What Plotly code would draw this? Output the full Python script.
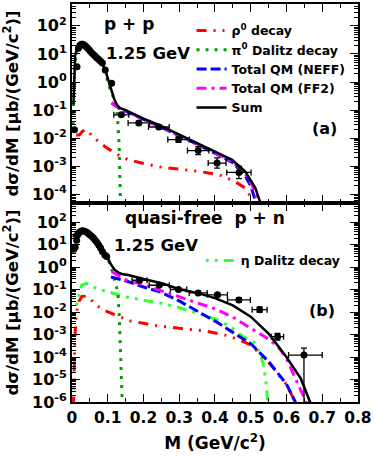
import plotly.graph_objects as go
from plotly.subplots import make_subplots

# ---------------- panel (a): p + p ----------------
pp_m = [0.007, 0.014, 0.018, 0.022, 0.026, 0.030, 0.034, 0.038, 0.042, 0.046, 0.050,
        0.055, 0.060, 0.065, 0.070, 0.075, 0.080, 0.085, 0.093, 0.111]
pp_val = [0.02, 3.5, 16, 20, 22, 22, 21, 19, 17, 15, 13,
          11, 9.5, 8.3, 7.2, 6.3, 5.5, 4.8, 2.7, 0.9]

pp_err_m = [0.138, 0.187, 0.243, 0.298, 0.353, 0.406, 0.467]
pp_err_val = [0.068, 0.035, 0.025, 0.0089, 0.0036, 0.0013, 0.0006]
pp_err_dm = [0.021, 0.03, 0.029, 0.03, 0.03, 0.025, 0.034]
pp_err_up = [0.0083, 0.0052, 0.0044, 0.0023, 0.0014, 0.00067, 0.0004]
pp_err_dn = [0.0074, 0.0045, 0.0037, 0.0018, 0.001, 0.00044, 0.00024]

pp_sum_m = [0.004, 0.006, 0.009, 0.014, 0.020, 0.027, 0.035, 0.045, 0.055, 0.065, 0.075, 0.085,
            0.095, 0.105, 0.111, 0.118, 0.125, 0.133, 0.15, 0.2, 0.243, 0.298, 0.353, 0.406,
            0.448, 0.485, 0.513, 0.527, 0.530]
pp_sum = [0.16, 1.6, 9.1, 15.8, 22.4, 25, 21.4, 15.8, 11.7, 8.5, 6.3, 4.5,
          2.2, 0.89, 0.46, 0.25, 0.16, 0.12, 0.1, 0.05, 0.0295, 0.0138, 0.0065, 0.0031,
          0.0017, 6.5e-4, 1.66e-4, 5e-5, 3.2e-5]

pp_qm_m = [0.111, 0.133, 0.2, 0.243, 0.298, 0.353, 0.406, 0.448, 0.485, 0.5, 0.51, 0.515]
pp_neff = [0.178, 0.112, 0.047, 0.027, 0.0126, 0.0058, 0.0027, 0.0014, 4.5e-4, 2e-4, 7.9e-5, 3.2e-5]
pp_ff2_m = [0.111, 0.133, 0.2, 0.243, 0.298, 0.353, 0.406, 0.448, 0.485, 0.505, 0.516, 0.522]
pp_ff2 = [0.186, 0.115, 0.048, 0.0275, 0.0129, 0.0059, 0.0028, 0.0015, 5.4e-4, 2e-4, 7.9e-5, 3.2e-5]

pp_rho_m = [0.012, 0.021, 0.03, 0.04, 0.063, 0.081, 0.105, 0.128, 0.156, 0.189, 0.244, 0.3,
            0.356, 0.411, 0.457, 0.485, 0.503, 0.512]
pp_rho = [0.0126, 0.0132, 0.0178, 0.02, 0.01, 0.0063, 0.0039, 0.0026, 0.00174, 0.00135, 9.5e-4, 7.9e-4,
          6.5e-4, 5e-4, 2.8e-4, 1.66e-4, 7.2e-5, 4e-5]

pp_pi0_m = [0.003, 0.004, 0.006, 0.009, 0.014, 0.02, 0.027, 0.035, 0.045, 0.055, 0.065, 0.075,
            0.085, 0.095, 0.102, 0.111, 0.118, 0.124, 0.128, 0.132, 0.134, 0.136]
pp_pi0 = [0.032, 0.126, 1, 6, 12.6, 20, 24, 20, 14.8, 10.7, 7.9, 5.8,
          4, 2, 0.79, 0.42, 0.24, 0.126, 0.04, 0.0054, 5e-4, 2.5e-5]

# ---------------- panel (b): quasi-free p + n ----------------
pn_m = [0.005, 0.009, 0.013, 0.016, 0.020, 0.025, 0.030, 0.035, 0.040, 0.045, 0.050,
        0.055, 0.060, 0.065, 0.070, 0.075, 0.080, 0.085, 0.092, 0.097]
pn_val = [6.3, 7.9, 15.8, 28, 35, 40, 42, 40, 37, 33, 28,
          24, 20, 15.8, 12.6, 9.5, 7.1, 5, 3.5, 3.0]

pn_err_m = [0.189, 0.244, 0.298, 0.353, 0.407, 0.467, 0.525, 0.575, 0.649]
pn_err_val = [0.263, 0.158, 0.102, 0.072, 0.059, 0.035, 0.0129, 8.1e-4, 1.23e-4]
pn_err_dm_hi = [0.021, 0.028, 0.023, 0.025, 0.028, 0.032, 0.021, 0.017, 0.051]
pn_err_dm_lo = [0.021, 0.028, 0.023, 0.025, 0.028, 0.032, 0.021, 0.017, 0.043]
pn_err_up = [0.032, 0.019, 0.015, 0.013, 0.012, 0.0091, 0.0041, 3.3e-4, 1.28e-4]
pn_err_dn = [0.029, 0.017, 0.013, 0.011, 0.0099, 0.0072, 0.0031, 2.4e-4, 1.2299e-4]

pn_sum_m = [0.003, 0.01, 0.02, 0.03, 0.04, 0.05, 0.06, 0.07, 0.08, 0.09, 0.1, 0.11, 0.12, 0.13,
            0.14, 0.16, 0.2, 0.254, 0.3, 0.35, 0.4, 0.45, 0.5, 0.55, 0.6, 0.64, 0.666, 0.672]
pn_sum = [22, 32, 42, 48, 43, 32, 22, 14, 8.3, 4.6, 2.5, 1.26, 0.76, 0.58,
          0.5, 0.44, 0.3, 0.19, 0.105, 0.072, 0.042, 0.02, 0.0063, 0.00112, 1e-4, 1.12e-5, 1e-6, 4e-7]

pn_neff_m = [0.109, 0.15, 0.2, 0.25, 0.3, 0.35, 0.4, 0.45, 0.5, 0.55, 0.6, 0.628]
pn_neff = [0.37, 0.25, 0.132, 0.076, 0.0316, 0.0112, 0.004, 0.00126, 4e-4, 6.3e-5, 6.3e-6, 7.9e-7]
pn_ff2_m = [0.111, 0.15, 0.2, 0.25, 0.3, 0.35, 0.4, 0.45, 0.5, 0.55, 0.58, 0.6, 0.625, 0.645, 0.658]
pn_ff2 = [0.63, 0.28, 0.166, 0.089, 0.048, 0.027, 0.0141, 0.006, 0.002, 6.3e-4, 2.5e-4, 8.9e-5,
          1.12e-5, 2.5e-6, 7.9e-7]

pn_rho_m = [0.004, 0.006, 0.008, 0.011, 0.015, 0.02, 0.028, 0.04, 0.05, 0.065, 0.086, 0.114,
            0.142, 0.165, 0.2, 0.23, 0.3, 0.374, 0.44, 0.476, 0.5, 0.55, 0.6, 0.628]
pn_rho = [6.3e-7, 3.2e-5, 6.3e-4, 0.005, 0.0158, 0.0316, 0.05, 0.052, 0.04, 0.0224, 0.0129, 0.0083,
          0.0055, 0.004, 0.0032, 0.0026, 0.0019, 0.00145, 8.7e-4, 5e-4, 3.5e-4, 6e-5, 6e-6, 7.9e-7]

pn_pi0_m = [0.003, 0.009, 0.02, 0.03, 0.04, 0.05, 0.06, 0.07, 0.08, 0.09, 0.1, 0.11, 0.12,
            0.128, 0.132, 0.135, 0.138, 0.141]
pn_pi0 = [25, 32, 45, 52, 45, 33, 22, 14, 8.3, 4.5, 2.4, 1, 0.28,
          0.079, 0.0079, 5e-4, 2.5e-5, 6.3e-7]

pn_eta_m = [0.012, 0.017, 0.022, 0.027, 0.04, 0.058, 0.08, 0.11, 0.15, 0.2, 0.25, 0.3, 0.35,
            0.4, 0.44, 0.48, 0.51, 0.525, 0.535, 0.542, 0.547, 0.549]
pn_eta = [0.02, 0.0316, 0.1, 0.158, 0.19, 0.135, 0.1, 0.071, 0.048, 0.034, 0.025, 0.0158, 0.0089,
          0.005, 0.0025, 7.9e-4, 4.5e-4, 1.6e-4, 5e-5, 1e-5, 1.26e-6, 3.2e-7]

top_exps = [-4, -3, -2, -1, 0, 1, 2]
bot_exps = [-6, -5, -4, -3, -2, -1, 0, 1, 2]
x_ticks = [0, 0.1, 0.2, 0.3, 0.4, 0.5, 0.6, 0.7, 0.8]
x_labels = ["0", "0.1", "0.2", "0.3", "0.4", "0.5", "0.6", "0.7", "0.8"]

FONT = "DejaVu Sans"
RED, GREEN, BLUE, MAGENTA, LIME = "#ff0000", "#00a000", "#0000ff", "#ff00ff", "#33ff33"
RHO_DASH = "10px,7px,2px,7px,2px,7px"
PI0_DASH = "3px,6px"
NEFF_DASH = "10px,4px"
FF2_DASH = "10px,5px,3px,5px"
ETA_DASH = "3px,6px,3px,6px,10px,6px"

fig = make_subplots(rows=2, cols=1, shared_xaxes=True, vertical_spacing=0)


def add_curves(row, rho_m, rho, pi0_m, pi0, neff_m, neff, ff2_m, ff2, sum_m, summ, legend):
    fig.add_trace(go.Scatter(x=rho_m, y=rho, mode="lines", name="ρ<sup>0</sup> decay",
                             line=dict(color=RED, width=3, dash=RHO_DASH), showlegend=legend),
                  row=row, col=1)
    fig.add_trace(go.Scatter(x=pi0_m, y=pi0, mode="lines", name="π<sup>0</sup> Dalitz decay",
                             line=dict(color=GREEN, width=3, dash=PI0_DASH), showlegend=legend),
                  row=row, col=1)
    fig.add_trace(go.Scatter(x=neff_m, y=neff, mode="lines", name="Total QM (NEFF)",
                             line=dict(color=BLUE, width=3, dash=NEFF_DASH), showlegend=legend),
                  row=row, col=1)
    fig.add_trace(go.Scatter(x=ff2_m, y=ff2, mode="lines", name="Total QM (FF2)",
                             line=dict(color=MAGENTA, width=3, dash=FF2_DASH), showlegend=legend),
                  row=row, col=1)
    fig.add_trace(go.Scatter(x=sum_m, y=summ, mode="lines", name="Sum",
                             line=dict(color="black", width=2.5), showlegend=legend),
                  row=row, col=1)


def add_data(row, m, val, em, eval_, dm_hi, dm_lo, up, dn):
    fig.add_trace(go.Scatter(x=m, y=val, mode="markers", showlegend=False,
                             marker=dict(color="black", size=7)), row=row, col=1)
    fig.add_trace(go.Scatter(x=em, y=eval_, mode="markers", showlegend=False,
                             marker=dict(color="black", size=7),
                             error_x=dict(type="data", array=dm_hi, arrayminus=dm_lo,
                                          color="black", thickness=1.3, width=3),
                             error_y=dict(type="data", array=up, arrayminus=dn,
                                          color="black", thickness=1.3, width=3)),
                  row=row, col=1)


add_curves(1, pp_rho_m, pp_rho, pp_pi0_m, pp_pi0, pp_qm_m, pp_neff, pp_ff2_m, pp_ff2,
           pp_sum_m, pp_sum, True)
add_data(1, pp_m, pp_val, pp_err_m, pp_err_val, pp_err_dm, pp_err_dm, pp_err_up, pp_err_dn)

fig.add_trace(go.Scatter(x=pn_eta_m, y=pn_eta, mode="lines", name="η Dalitz decay",
                         line=dict(color=LIME, width=3, dash=ETA_DASH), legend="legend2"),
              row=2, col=1)
add_curves(2, pn_rho_m, pn_rho, pn_pi0_m, pn_pi0, pn_neff_m, pn_neff, pn_ff2_m, pn_ff2,
           pn_sum_m, pn_sum, False)
add_data(2, pn_m, pn_val, pn_err_m, pn_err_val, pn_err_dm_hi, pn_err_dm_lo, pn_err_up, pn_err_dn)

tick_font = dict(family=FONT, size=16, color="black", weight="bold")
axis_common = dict(showline=True, linewidth=2, linecolor="black", mirror="ticks",
                   ticks="inside", ticklen=8, tickwidth=1.2, tickcolor="black",
                   showgrid=False, zeroline=False, tickfont=tick_font)

fig.update_xaxes(range=[0, 0.8002], tickvals=x_ticks, ticktext=x_labels,
                 ticklabeloverflow="allow",
                 minor=dict(ticks="inside", ticklen=4, dtick=0.05, tick0=0,
                            tickcolor="black", showgrid=False),
                 **axis_common)
fig.update_xaxes(tickfont=dict(family=FONT, size=15.5, color="black", weight="bold"))
fig.update_xaxes(showticklabels=False, row=1, col=1)
fig.update_xaxes(row=2, col=1,
                 title=dict(text="M (GeV/c<sup>2</sup>)", standoff=12,
                            font=dict(family=FONT, size=17, color="black", weight="bold")))

ytitle = dict(text="dσ/dM [μb/(GeV/c<sup>2</sup>)]", standoff=16,
              font=dict(family=FONT, size=16.5, color="black", weight="bold"))
minor_log = dict(ticks="inside", ticklen=4, dtick="D1", tickcolor="black", showgrid=False)

fig.update_yaxes(type="log", range=[-4.31, 2.78], domain=[0.5, 1],
                 tickvals=[10.0 ** e for e in top_exps],
                 ticktext=[f"10<sup>{e}</sup>" for e in top_exps],
                 minor=minor_log, title=ytitle, row=1, col=1, **axis_common)
fig.update_yaxes(type="log", range=[-6, 2.86], domain=[0, 0.5],
                 tickvals=[10.0 ** e for e in bot_exps],
                 ticktext=[f"10<sup>{e}</sup>" for e in bot_exps],
                 minor=minor_log, title=ytitle, row=2, col=1, **axis_common)

ann_font = dict(family=FONT, color="black", weight="bold")
annotations = [
    dict(x=0.201, y=0.951, text="p + p", size=17),
    dict(x=0.264, y=0.876, text="1.25 GeV", size=16.5),
    dict(x=0.882, y=0.688, text="(a)", size=16),
    dict(x=0.465, y=0.4625, text="quasi-free  p + n", size=17),
    dict(x=0.295, y=0.3925, text="1.25 GeV", size=16.5),
    dict(x=0.875, y=0.23, text="(b)", size=16),
]
for a in annotations:
    fig.add_annotation(x=a["x"], y=a["y"], xref="paper", yref="paper", text=a["text"],
                       showarrow=False, xanchor="center", yanchor="middle",
                       font=dict(size=a["size"], **ann_font))

fig.update_layout(
    width=374, height=457,
    margin=dict(l=72, r=14, t=2, b=55),
    plot_bgcolor="white", paper_bgcolor="white",
    font=dict(family=FONT, color="black", weight="bold"),
    legend=dict(x=0.418, y=0.97, xanchor="left", yanchor="top", bgcolor="rgba(0,0,0,0)",
                font=dict(family=FONT, size=12.5, color="black", weight="bold"),
                itemwidth=30, tracegroupgap=0),
    legend2=dict(x=0.45, y=0.392, xanchor="left", yanchor="top", bgcolor="rgba(0,0,0,0)",
                 font=dict(family=FONT, size=12.5, color="black", weight="bold"),
                 itemwidth=30),
)

# the page's default body margin would push the 374x457 figure off the window
fig.write_html("out.html", config={"displayModeBar": False},
               post_script="document.body.style.margin='0';")
